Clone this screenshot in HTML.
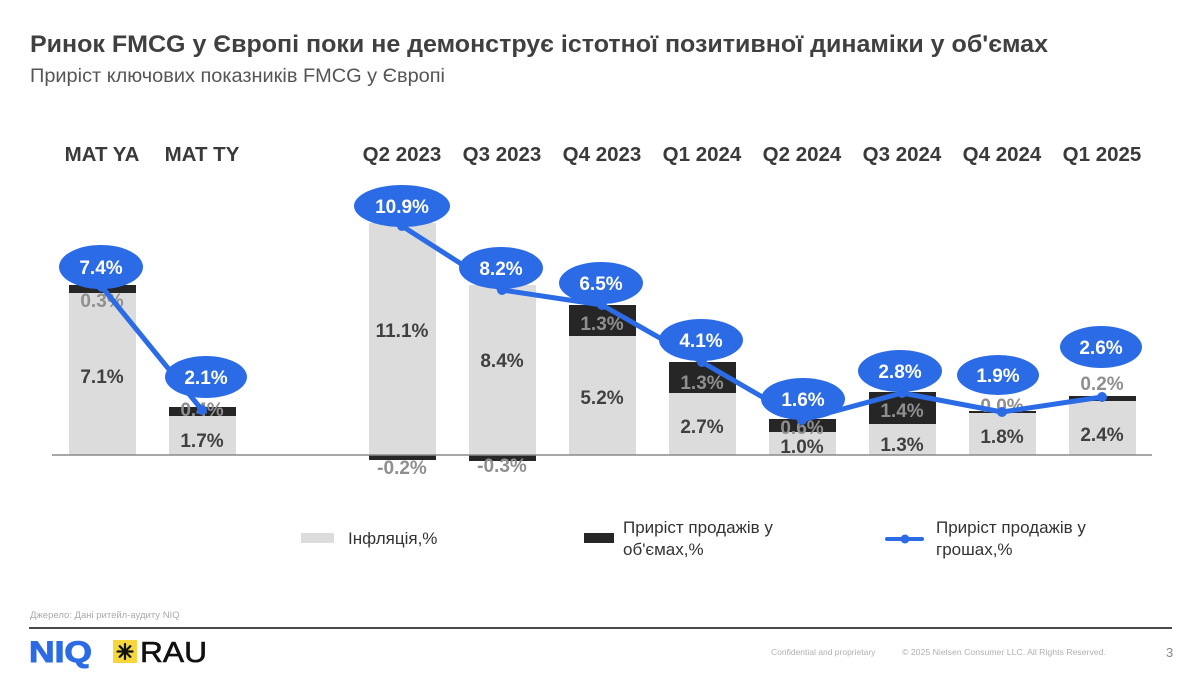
<!DOCTYPE html>
<html>
<head>
<meta charset="utf-8">
<style>
  html,body{margin:0;padding:0;background:#fff;}
  svg{display:block;}
  text{font-family:"Liberation Sans","DejaVu Sans",sans-serif;}
</style>
</head>
<body>
<svg width="1200" height="675" viewBox="0 0 1200 675" xmlns="http://www.w3.org/2000/svg">
  <rect width="1200" height="675" fill="#fff"/>

  <!-- Title -->
  <text x="30" y="52" font-size="24" font-weight="bold" fill="#404040" textLength="1018" lengthAdjust="spacingAndGlyphs">Ринок FMCG у Європі поки не демонструє істотної позитивної динаміки у об'ємах</text>
  <text x="30" y="82" font-size="19.5" fill="#555" textLength="415" lengthAdjust="spacingAndGlyphs">Приріст ключових показників FMCG у Європі</text>

  <!-- Category labels -->
  <g font-size="20.5" font-weight="bold" fill="#3a3a3a" text-anchor="middle">
    <text x="102" y="161">MAT YA</text>
    <text x="202" y="161">MAT TY</text>
    <text x="402" y="161">Q2 2023</text>
    <text x="502" y="161">Q3 2023</text>
    <text x="602" y="161">Q4 2023</text>
    <text x="702" y="161">Q1 2024</text>
    <text x="802" y="161">Q2 2024</text>
    <text x="902" y="161">Q3 2024</text>
    <text x="1002" y="161">Q4 2024</text>
    <text x="1102" y="161">Q1 2025</text>
  </g>

  <!-- Gray bars (inflation) -->
  <g fill="#dcdcdc">
    <rect x="69" y="293" width="67" height="162"/>
    <rect x="169" y="416" width="67" height="39"/>
    <rect x="369" y="223" width="67" height="232"/>
    <rect x="469" y="285" width="67" height="170"/>
    <rect x="569" y="336" width="67" height="119"/>
    <rect x="669" y="393" width="67" height="62"/>
    <rect x="769" y="432" width="67" height="23"/>
    <rect x="869" y="424" width="67" height="31"/>
    <rect x="969" y="413" width="67" height="42"/>
    <rect x="1069" y="401" width="67" height="54"/>
  </g>
  <!-- Black bars (volume) -->
  <g fill="#262626">
    <rect x="69" y="285" width="67" height="8"/>
    <rect x="169" y="407" width="67" height="9"/>
    <rect x="369" y="455" width="67" height="5"/>
    <rect x="469" y="455" width="67" height="6"/>
    <rect x="569" y="305" width="67" height="31"/>
    <rect x="669" y="362" width="67" height="31"/>
    <rect x="769" y="419" width="67" height="13"/>
    <rect x="869" y="392" width="67" height="32"/>
    <rect x="969" y="411" width="67" height="2"/>
    <rect x="1069" y="396" width="67" height="5"/>
  </g>

  <!-- Axis -->
  <line x1="52" y1="455" x2="1152" y2="455" stroke="#8a8a8a" stroke-width="1.5"/>

  <!-- Bar labels: inflation (dark) -->
  <g font-size="19" font-weight="bold" fill="#404040" text-anchor="middle">
    <text x="102" y="383">7.1%</text>
    <text x="202" y="447">1.7%</text>
    <text x="402" y="337">11.1%</text>
    <text x="502" y="367">8.4%</text>
    <text x="602" y="404">5.2%</text>
    <text x="702" y="433">2.7%</text>
    <text x="802" y="453">1.0%</text>
    <text x="902" y="451">1.3%</text>
    <text x="1002" y="443">1.8%</text>
    <text x="1102" y="441">2.4%</text>
  </g>
  <!-- Bar labels: volume (gray) -->
  <g font-size="19" font-weight="bold" fill="#8f8f8f" text-anchor="middle">
    <text x="102" y="307">0.3%</text>
    <text x="202" y="416">0.4%</text>
    <text x="402" y="474">-0.2%</text>
    <text x="502" y="472">-0.3%</text>
    <text x="602" y="330">1.3%</text>
    <text x="702" y="389">1.3%</text>
    <text x="802" y="434">0.6%</text>
    <text x="902" y="417">1.4%</text>
    <text x="1002" y="412">0.0%</text>
    <text x="1102" y="390">0.2%</text>
  </g>

  <!-- Value line -->
  <g stroke="#2b6be5" stroke-width="5" fill="none" stroke-linejoin="round" stroke-linecap="round">
    <polyline points="102,287 202,410"/>
    <polyline points="402,226 502,290 602,305 702,362 802,420 902,393 1002,412 1102,397"/>
  </g>
  <g fill="#2b6be5">
    <circle cx="102" cy="287" r="5"/>
    <circle cx="202" cy="410" r="5"/>
    <circle cx="402" cy="226" r="5"/>
    <circle cx="502" cy="290" r="5"/>
    <circle cx="602" cy="305" r="5"/>
    <circle cx="702" cy="362" r="5"/>
    <circle cx="802" cy="420" r="5"/>
    <circle cx="902" cy="393" r="5"/>
    <circle cx="1002" cy="412" r="5"/>
    <circle cx="1102" cy="397" r="5"/>
  </g>

  <!-- Ellipse labels -->
  <g fill="#2b6be5">
    <ellipse cx="101" cy="267" rx="42" ry="22"/>
    <ellipse cx="206" cy="377" rx="41" ry="21"/>
    <ellipse cx="402" cy="206" rx="48" ry="21"/>
    <ellipse cx="501" cy="268" rx="42" ry="21"/>
    <ellipse cx="601" cy="283" rx="42" ry="21"/>
    <ellipse cx="701" cy="340" rx="42" ry="21"/>
    <ellipse cx="803" cy="399" rx="42" ry="21"/>
    <ellipse cx="900" cy="371" rx="42" ry="21"/>
    <ellipse cx="998" cy="375" rx="41" ry="20"/>
    <ellipse cx="1101" cy="347" rx="41" ry="21"/>
  </g>
  <g font-size="19" font-weight="bold" fill="#fff" text-anchor="middle">
    <text x="101" y="274">7.4%</text>
    <text x="206" y="384">2.1%</text>
    <text x="402" y="213">10.9%</text>
    <text x="501" y="275">8.2%</text>
    <text x="601" y="290">6.5%</text>
    <text x="701" y="347">4.1%</text>
    <text x="803" y="406">1.6%</text>
    <text x="900" y="378">2.8%</text>
    <text x="998" y="382">1.9%</text>
    <text x="1101" y="354">2.6%</text>
  </g>

  <!-- Legend -->
  <rect x="301" y="533" width="33" height="10" fill="#dcdcdc"/>
  <text x="348" y="544" font-size="17" fill="#333">Інфляція,%</text>
  <rect x="584" y="533" width="30" height="10" fill="#262626"/>
  <text x="623" y="533" font-size="17" fill="#333">Приріст продажів у</text>
  <text x="623" y="555" font-size="17" fill="#333">об'ємах,%</text>
  <line x1="887" y1="539" x2="922" y2="539" stroke="#2b6be5" stroke-width="4" stroke-linecap="round"/>
  <circle cx="905" cy="539" r="4.5" fill="#2b6be5"/>
  <text x="936" y="533" font-size="17" fill="#333">Приріст продажів у</text>
  <text x="936" y="555" font-size="17" fill="#333">грошах,%</text>

  <!-- Footer -->
  <text x="30" y="618" font-size="9.5" fill="#aaa">Джерело: Дані ритейл-аудиту NIQ</text>
  <line x1="29" y1="628" x2="1172" y2="628" stroke="#4a4a4a" stroke-width="2"/>

  <text x="29" y="662" font-size="30" font-weight="bold" fill="#2b6be5" stroke="#2b6be5" stroke-width="1" textLength="63" lengthAdjust="spacingAndGlyphs">NIQ</text>
  <rect x="113" y="640" width="24" height="23" fill="#f6d63c"/>
  <g stroke="#111" stroke-width="2.2" stroke-linecap="round">
    <line x1="125" y1="644" x2="125" y2="659"/>
    <line x1="117.5" y1="651.5" x2="132.5" y2="651.5"/>
    <line x1="119.7" y1="646.2" x2="130.3" y2="656.8"/>
    <line x1="130.3" y1="646.2" x2="119.7" y2="656.8"/>
  </g>
  <text x="140" y="662" font-size="29" fill="#111" stroke="#111" stroke-width="0.6" textLength="67" lengthAdjust="spacingAndGlyphs">RAU</text>

  <text x="771" y="655" font-size="8.5" fill="#b0b0b0">Confidential and proprietary</text>
  <text x="902" y="655" font-size="8.5" fill="#b0b0b0" textLength="204" lengthAdjust="spacingAndGlyphs">© 2025 Nielsen Consumer LLC. All Rights Reserved.</text>
  <text x="1166" y="657" font-size="13" fill="#888">3</text>
</svg>
</body>
</html>
